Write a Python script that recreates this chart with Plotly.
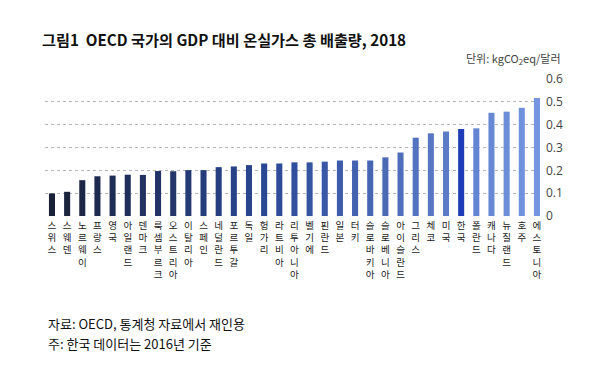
import plotly.graph_objects as go

countries = ["스위스", "스웨덴", "노르웨이", "프랑스", "영국", "아일랜드", "덴마크", "룩셈부르크",
             "오스트리아", "이탈리아", "스페인", "네덜란드", "포르투갈", "독일", "헝가리", "라트비아",
             "리투아니아", "벨기에", "핀란드", "일본", "터키", "슬로바키아", "슬로베니아", "아이슬란드",
             "그리스", "체코", "미국", "한국", "폴란드", "캐나다", "뉴질랜드", "호주", "에스토니아"]
values = [0.099, 0.106, 0.157, 0.174, 0.177, 0.181, 0.180, 0.197,
          0.196, 0.201, 0.201, 0.214, 0.217, 0.223, 0.230, 0.230,
          0.235, 0.235, 0.238, 0.243, 0.243, 0.243, 0.257, 0.278,
          0.343, 0.362, 0.370, 0.381, 0.384, 0.452, 0.457, 0.474, 0.517]
y_ticks = [0, 0.1, 0.2, 0.3, 0.4, 0.5, 0.6]
y_tick_text = ["0", "0.1", "0.2", "0.3", "0.4", "0.5", "0.6"]
highlight = "한국"

FONT = "Noto Sans CJK KR"


def lerp(c1, c2, t):
    return tuple(round(a + (b - a) * t) for a, b in zip(c1, c2))


stops = [(0.0, (26, 34, 58)), (0.45, (42, 72, 150)), (1.0, (116, 150, 225))]
n = len(countries)
colors = []
for i, c in enumerate(countries):
    t = i / (n - 1)
    for (t0, c0), (t1, c1) in zip(stops[:-1], stops[1:]):
        if t0 <= t <= t1:
            rgb = lerp(c0, c1, (t - t0) / (t1 - t0))
            break
    colors.append("#1f3cb8" if c == highlight else "rgb(%d,%d,%d)" % rgb)

xs = list(range(n))
fig = go.Figure(go.Bar(
    x=xs, y=values, marker=dict(color=colors, line=dict(width=0)),
    width=0.4,
))

L, R, T, B = 45, 66, 79, 160
W, H = 609, 376
pw, ph = W - L - R, H - T - B


def px(x):
    return (x - L) / pw


def py(y):
    return (H - B - y) / ph


fig.update_layout(
    width=W, height=H,
    margin=dict(l=L, r=R, t=T, b=B, autoexpand=False),
    paper_bgcolor="white", plot_bgcolor="white",
    showlegend=False,
    font=dict(family=FONT, color="#333"),
    title=dict(
        text="그림1  OECD 국가의 GDP 대비 온실가스 총 배출량, 2018",
        x=42 / W, xanchor="left", y=1 - 41 / H, yanchor="middle",
        font=dict(family=FONT, size=15.2, color="#111", weight="bold"),
    ),
    xaxis=dict(
        range=[-0.46, 32.4], tickmode="array", tickvals=xs,
        ticktext=["<br>".join(list(c)) for c in countries],
        showgrid=False, zeroline=False, showline=False, ticks="",
        tickangle=0, automargin=False, ticklabelstandoff=2,
        tickfont=dict(size=9.5, color="#1a1a1a", family=FONT),
    ),
    yaxis=dict(
        range=[0, 0.6], side="right", tickmode="array", tickvals=y_ticks,
        ticktext=y_tick_text, showgrid=True, gridcolor="#b5b5b5", griddash="dot",
        gridwidth=1, zeroline=False, showline=False, ticks="", automargin=False,
        ticklabelstandoff=2,
        tickfont=dict(size=12, color="#444", family="Open Sans"),
    ),
    annotations=[
        dict(text="단위: kgCO<sub>2</sub>eq/달러", xref="paper", yref="paper",
             x=px(563), y=py(58.5), xanchor="right", yanchor="middle",
             showarrow=False, font=dict(size=11, color="#444", family=FONT)),
        dict(text="자료: OECD, 통계청 자료에서 재인용", xref="paper", yref="paper",
             x=px(46), y=py(323), xanchor="left", yanchor="middle",
             showarrow=False, font=dict(size=13, color="#111", family=FONT)),
        dict(text="주: 한국 데이터는 2016년 기준", xref="paper", yref="paper",
             x=px(46), y=py(343), xanchor="left", yanchor="middle",
             showarrow=False, font=dict(size=13, color="#111", family=FONT)),
    ],
)

fig.write_html("out.html", config={"displayModeBar": False},
               post_script="document.body.style.margin='0';")
